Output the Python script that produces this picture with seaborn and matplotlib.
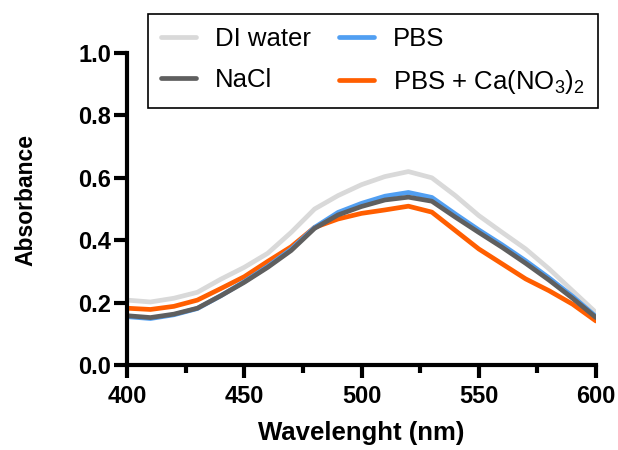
import matplotlib
matplotlib.use("Agg")
import matplotlib.pyplot as plt
from matplotlib.ticker import MultipleLocator
import numpy as np
import pandas as pd
import seaborn as sns

# Wavelengths (nm) and absorbance of each sample
wavelength = [400, 410, 420, 430, 440, 450, 460, 470, 480, 490, 500,
              510, 520, 530, 540, 550, 560, 570, 580, 590, 600]
di_water = [0.208, 0.202, 0.214, 0.233, 0.275, 0.313, 0.358, 0.425, 0.500, 0.543, 0.578,
            0.604, 0.620, 0.600, 0.543, 0.479, 0.425, 0.372, 0.308, 0.238, 0.168]
nacl = [0.158, 0.152, 0.163, 0.182, 0.222, 0.265, 0.313, 0.367, 0.438, 0.481, 0.508,
        0.529, 0.538, 0.525, 0.474, 0.425, 0.377, 0.326, 0.272, 0.214, 0.152]
pbs = [0.155, 0.149, 0.161, 0.181, 0.222, 0.267, 0.316, 0.371, 0.441, 0.489, 0.518,
       0.541, 0.553, 0.537, 0.484, 0.433, 0.385, 0.334, 0.279, 0.220, 0.155]
pbs_ca = [0.182, 0.178, 0.188, 0.208, 0.245, 0.283, 0.332, 0.379, 0.441, 0.468, 0.486,
          0.497, 0.509, 0.490, 0.431, 0.372, 0.324, 0.276, 0.238, 0.195, 0.141]

labels = ["DI water", "NaCl", "PBS", r"PBS + Ca(NO$_3$)$_2$"]
colors = ["#d9d9d9", "#5f5f5f", "#519ff2", "#ff5e00"]
x_ticks = [400, 450, 500, 550, 600]
y_ticks = [0.0, 0.2, 0.4, 0.6, 0.8, 1.0]

series = dict(zip(labels, [di_water, nacl, pbs, pbs_ca]))
df = pd.concat(
    [pd.DataFrame({"Wavelength": wavelength, "Absorbance": vals, "Sample": name})
     for name, vals in series.items()],
    ignore_index=True,
)

sns.set_style("ticks")
plt.rcParams["font.family"] = ["Liberation Sans", "DejaVu Sans"]
plt.rcParams["text.color"] = "black"
plt.rcParams["axes.labelcolor"] = "black"
plt.rcParams["xtick.color"] = "black"
plt.rcParams["ytick.color"] = "black"
plt.rcParams["mathtext.fontset"] = "custom"
plt.rcParams["mathtext.rm"] = "Liberation Sans"
plt.rcParams["mathtext.it"] = "Liberation Sans:italic"
plt.rcParams["mathtext.bf"] = "Liberation Sans:bold"

fig = plt.figure(figsize=(6.18, 4.5), dpi=100)
ax = fig.add_axes([127 / 618, (450 - 365) / 450, (596 - 127) / 618, (365 - 53) / 450])

draw_order = [labels[0], labels[3], labels[2], labels[1]]
palette = dict(zip(labels, colors))
sns.lineplot(data=df, x="Wavelength", y="Absorbance", hue="Sample",
             hue_order=draw_order, palette=palette, linewidth=3.4, ax=ax)

ax.set_xlim(400, 600)
ax.set_ylim(0, 1.0)
ax.set_xticks(x_ticks)
ax.set_yticks(y_ticks)
ax.set_yticklabels([f"{v:.1f}" for v in y_ticks])
ax.xaxis.set_minor_locator(MultipleLocator(25))

sns.despine(ax=ax)
for side in ("left", "bottom"):
    ax.spines[side].set_linewidth(3.0)
    ax.spines[side].set_color("black")
ax.tick_params(axis="both", which="major", length=9.5, width=3.0, color="black",
               labelsize=17, labelcolor="black")
ax.tick_params(axis="x", which="major", pad=5)
ax.tick_params(axis="y", which="major", pad=2)
ax.tick_params(axis="x", which="minor", length=6, width=3.0, color="black")
for lab in ax.get_xticklabels() + ax.get_yticklabels():
    lab.set_fontweight("bold")

ax.set_xlabel("Wavelenght (nm)", fontsize=18.5, fontweight="bold", color="black")
ax.set_ylabel("Absorbance", fontsize=16.5, fontweight="bold", color="black")
ax.xaxis.set_label_coords(0.5, (365 - 421) / 312)
ax.yaxis.set_label_coords((37 - 127) / 469, (365 - 200) / 312)

handles, hl = ax.get_legend_handles_labels()
lookup = dict(zip(hl, handles))
ordered = [lookup[name] for name in labels]
for h in ordered:
    h.set_linewidth(3.4)
leg = ax.legend(ordered, labels, ncol=2, loc="upper left",
                bbox_to_anchor=(148 / 618, 1 - 14 / 450),
                bbox_transform=fig.transFigure, borderaxespad=0,
                fontsize=18.5, frameon=True, fancybox=False,
                handlelength=1.35, handletextpad=0.75, columnspacing=1.1,
                labelspacing=0.65, borderpad=0.5)
leg.get_frame().set_edgecolor("black")
leg.get_frame().set_linewidth(1.2)
leg.get_frame().set_alpha(1)
for t in leg.get_texts():
    t.set_color("black")

fig.savefig("out.png", dpi=100)
